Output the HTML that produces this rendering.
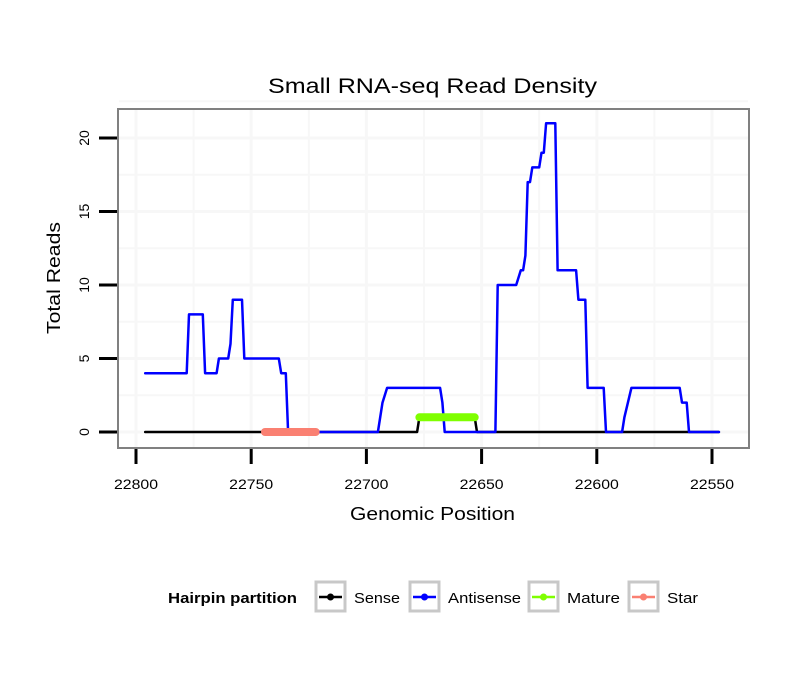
<!DOCTYPE html>
<html><head><meta charset="utf-8"><style>
body{margin:0;background:#fff;}
svg text{font-family:"Liberation Sans",sans-serif;}
</style></head><body>
<svg id="chart" width="810" height="690" xmlns="http://www.w3.org/2000/svg">
<rect width="810" height="690" fill="#fff"/>
<text x="268" y="93" font-size="21" textLength="329" lengthAdjust="spacingAndGlyphs">Small RNA-seq Read Density</text>
<g id="grid"></g>
<g id="series"></g>
<rect x="118" y="109" width="631" height="339" fill="none" stroke="#808080" stroke-width="2"/>
<g id="axes"></g>
<text x="350" y="520" font-size="18" textLength="165" lengthAdjust="spacingAndGlyphs">Genomic Position</text>
<text transform="translate(60,334) rotate(-90)" font-size="18" textLength="112" lengthAdjust="spacingAndGlyphs">Total Reads</text>
<g>
<text x="168" y="603" font-size="15" font-weight="bold" textLength="129" lengthAdjust="spacingAndGlyphs">Hairpin partition</text>
<g id="legend-items"></g>
</g>
</svg>
<script>
const xTicks=[22800,22750,22700,22650,22600,22550];
const yTicks=[0,5,10,15,20];
const antisensePos=[22796,22778,22777,22771,22770,22765,22764,22760,22759,22758,22754,22753,22738,22737,22735,22734,22695,22693,22691,22668,22667,22666,22644,22643,22635,22633,22632,22631,22630,22629,22628,22625,22624,22623,22622,22618,22617,22609,22608,22605,22604,22597,22596,22589,22588,22585,22564,22563,22561,22560,22547];
const antisenseVal=[4,4,8,8,4,4,5,5,6,9,9,5,5,4,4,0,0,2,3,3,2,0,0,10,10,11,11,12,17,17,18,18,19,19,21,21,11,11,9,9,3,3,0,0,1,3,3,2,2,0,0];
const sensePos=[22796,22678,22677,22653,22652,22547];
const senseVal=[0,0,1,1,0,0];
const maturePos=[22677,22653];
const matureVal=[1,1];
const starPos=[22744,22722];
const starVal=[0,0];
const legendLabels=["Sense","Antisense","Mature","Star"];
const legendColors=["#000000","#0000ff","#7fff00","#fa8072"];
const legendTextW=[46,73,53,31];

const NS="http://www.w3.org/2000/svg";
const X=v=>136+(22800-v)*2.304;
const Y=v=>432-v*14.7;
function mk(tag,attrs,parent){const e=document.createElementNS(NS,tag);for(const k in attrs)e.setAttribute(k,attrs[k]);parent.appendChild(e);return e;}
const grid=document.getElementById('grid'),axes=document.getElementById('axes'),series=document.getElementById('series');
for(let v=22800;v>=22550;v-=25){if(X(v)<119||X(v)>748)continue;
 const l=mk('line',{x1:X(v),x2:X(v),y1:110,y2:447,stroke:'#f7f7f7','stroke-width':v%50?2:3},grid);
 
 }
for(let v=0;v<=22.5;v+=2.5){
 const l=mk('line',{x1:119,x2:748,y1:Y(v),y2:Y(v),stroke:'#f7f7f7','stroke-width':v%5?2:3},grid);
 
 }
xTicks.forEach(v=>{
 const t=mk('line',{x1:X(v),x2:X(v),y1:449,y2:464,stroke:'#000','stroke-width':3},axes);
 
 
 const tx=mk('text',{x:X(v)-22,y:489,'font-size':14,textLength:44,lengthAdjust:'spacingAndGlyphs'},axes);tx.textContent=v;
 
 });
yTicks.forEach(v=>{
 const t=mk('line',{x1:99,x2:117,y1:Y(v),y2:Y(v),stroke:'#000','stroke-width':3},axes);
 
 
 const tx=mk('text',{transform:`translate(89,${Y(v)}) rotate(-90)`,'font-size':14,'text-anchor':'middle'},axes);tx.textContent=v;
 
 });
function path(pos,val,color,w,name){
 const d=pos.map((p,i)=>(i?'L':'M')+X(p).toFixed(1)+','+Y(val[i]).toFixed(1)).join('');
 const e=mk('path',{d:d,fill:'none',stroke:color,'stroke-width':w,'stroke-linecap':'round','stroke-linejoin':'round'},series);
 
 }
path(sensePos,senseVal,'#000',2.5,'sense-line');
path(antisensePos,antisenseVal,'#0000ff',2.5,'antisense-line');
path(maturePos,matureVal,'#7fff00',8,'mature-line');
path(starPos,starVal,'#fa8072',8,'star-line');
const li=document.getElementById('legend-items');
const boxX=[316,410,529,629];
legendLabels.forEach((lab,i)=>{
 const g=mk('g',{},li);
 
 
 const bx=boxX[i];
 mk('rect',{x:bx,y:582,width:29,height:29,fill:'#fff',stroke:'#c8c8c8','stroke-width':3},g);
 mk('line',{x1:bx+3,x2:bx+26,y1:597,y2:597,stroke:legendColors[i],'stroke-width':2.5},g);
 mk('circle',{cx:bx+14.5,cy:597,r:3.5,fill:legendColors[i]},g);
 const t=mk('text',{x:bx+38,y:603,'font-size':15,textLength:legendTextW[i],lengthAdjust:'spacingAndGlyphs'},g);t.textContent=lab;});
</script>
</body></html>
